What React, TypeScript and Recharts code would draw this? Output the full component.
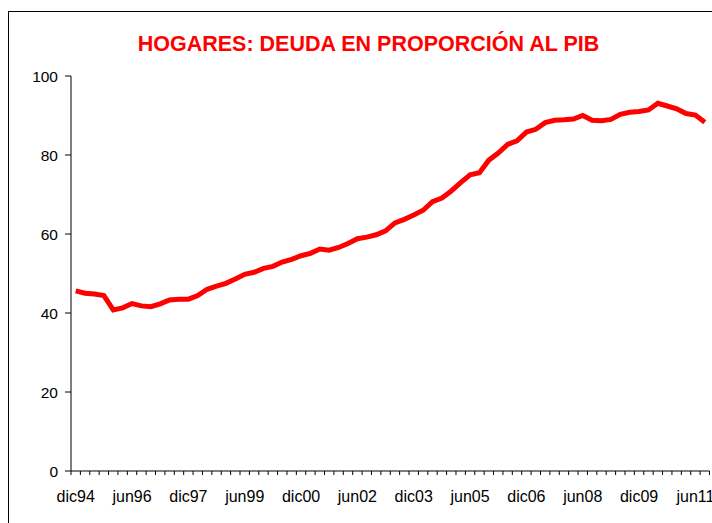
import { LineChart, Line, XAxis, YAxis } from "recharts";

const monthNames = ["dic", "mar", "jun", "sep"];
const quarters = Array.from({ length: 68 }, (_, i) => {
  const year = (1994 + Math.floor((i + 3) / 4)) % 100;
  return monthNames[i % 4] + String(year).padStart(2, "0");
});

// deuda de los hogares, % del PIB (trimestral, dic94 - sep11)
const debtRatio = [
  45.6, 45.0, 44.8, 44.4, 40.8, 41.3, 42.4, 41.8, 41.6, 42.3,
  43.3, 43.5, 43.5, 44.4, 46.0, 46.8, 47.5, 48.6, 49.8, 50.3,
  51.3, 51.8, 52.9, 53.6, 54.5, 55.1, 56.2, 55.9, 56.6, 57.6,
  58.8, 59.2, 59.8, 60.8, 62.8, 63.7, 64.8, 66.0, 68.2, 69.1,
  70.9, 73.0, 75.0, 75.5, 78.7, 80.5, 82.7, 83.6, 85.8, 86.5,
  88.2, 88.8, 88.9, 89.1, 90.0, 88.8, 88.7, 89.0, 90.3, 90.8,
  91.0, 91.4, 93.1, 92.4, 91.7, 90.5, 90.1, 88.3,
];

const labelIdx = [0, 6, 12, 18, 24, 30, 36, 42, 48, 54, 60, 66];
const yTicks = [0, 20, 40, 60, 80, 100];

const data = quarters.map((q, i) => ({ idx: i, quarter: q, value: debtRatio[i] }));
// tick marks sit between the categories, like Excel
const boundaryTicks = Array.from({ length: quarters.length + 1 }, (_, k) => k - 0.5);
const xDomain = [-0.5, quarters.length - 0.5];

const font = "'Liberation Sans', Arial, sans-serif";

const NoLabel = () => <g />;

export default function App() {
  return (
    <div
      style={{
        position: "absolute",
        left: 0,
        top: 0,
        width: 712,
        height: 523,
        overflow: "hidden",
        background: "#fff",
        fontFamily: font,
      }}
    >
      <div
        style={{
          position: "absolute",
          left: 8,
          top: 11,
          width: 760,
          height: 560,
          border: "1px solid #000",
        }}
      />
      <div
        style={{
          position: "absolute",
          left: 0,
          width: 737,
          top: 32,
          textAlign: "center",
          color: "#ff0000",
          fontWeight: "bold",
          fontSize: 21.5,
          lineHeight: "24px",
        }}
      >
        HOGARES: DEUDA EN PROPORCIÓN AL PIB
      </div>
      <div style={{ position: "absolute", left: 0, top: 0 }}>
        <LineChart
          width={712}
          height={523}
          data={data}
          margin={{ top: 76, right: 2.5, left: 0, bottom: 0 }}
        >
          <XAxis
            xAxisId="a"
            type="number"
            dataKey="idx"
            domain={xDomain}
            ticks={boundaryTicks}
            interval={0}
            tick={NoLabel}
            tickSize={4}
            height={5}
            stroke="#000"
            allowDataOverflow
          />
          <XAxis
            xAxisId="b"
            type="number"
            dataKey="idx"
            domain={xDomain}
            ticks={labelIdx}
            interval={0}
            tickFormatter={(v: number) => quarters[v]}
            axisLine={false}
            tickLine={false}
            tickSize={0}
            tickMargin={15}
            height={47}
            tick={{ fontSize: 16, fill: "#000", fontFamily: font }}
            allowDataOverflow
          />
          <YAxis
            domain={[0, 100]}
            ticks={yTicks}
            interval={0}
            width={71}
            tickSize={6}
            tickMargin={7}
            stroke="#000"
            tick={{ fontSize: 15.5, fill: "#000", fontFamily: font }}
          />
          <Line
            xAxisId="a"
            type="linear"
            dataKey="value"
            stroke="#ff0000"
            strokeWidth={5}
            dot={false}
            isAnimationActive={false}
          />
        </LineChart>
      </div>
    </div>
  );
}
